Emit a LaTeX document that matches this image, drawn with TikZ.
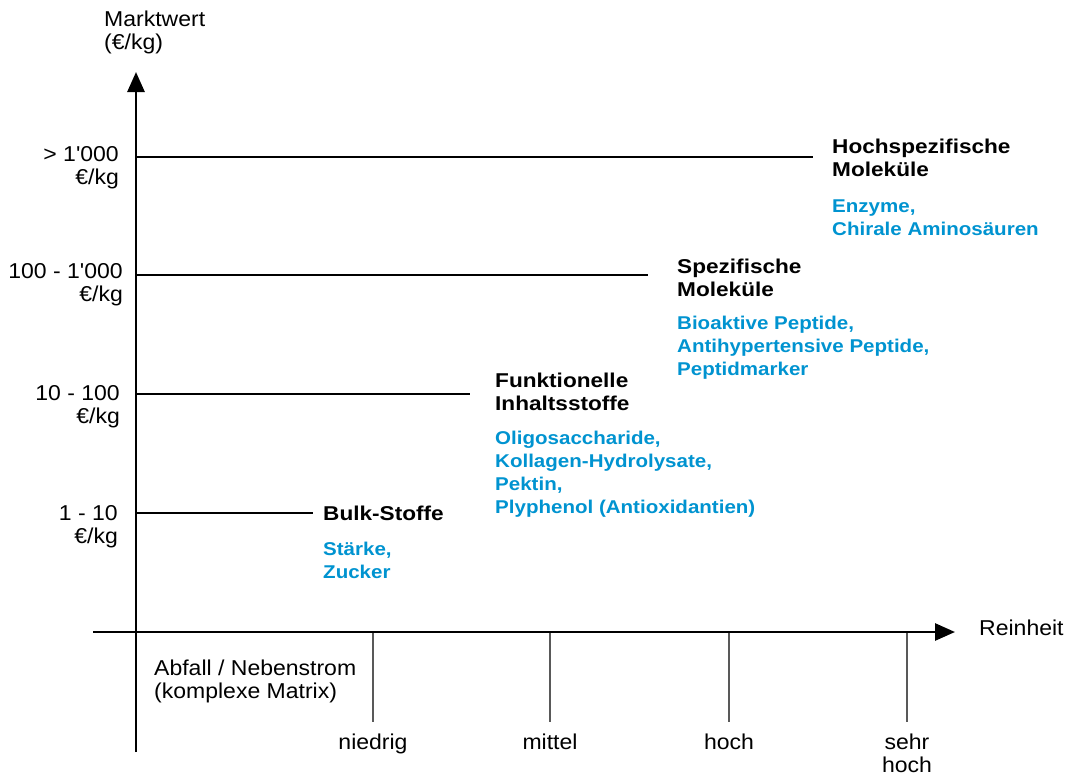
\documentclass[tikz,border=0pt]{standalone}
\usepackage{fontspec}
\setmainfont{Liberation Sans}[Ligatures=TeXOff]
\newfontfamily\regfont{Liberation Sans}[FakeStretch=1.07,Ligatures=TeXOff]
\newfontfamily\catfont{Liberation Sans}[FakeStretch=1.13,Ligatures=TeXOff]
\newfontfamily\itemfont{Liberation Sans}[FakeStretch=1.11,Ligatures=TeXOff]
\usetikzlibrary{arrows.meta}
\definecolor{itemblue}{RGB}{0,147,208}
\begin{document}
\begin{tikzpicture}[x=1pt,y=-1pt,
  lbl/.style={inner sep=0pt,align=left,font=\regfont\fontsize{21.5}{23}\selectfont},
  rlbl/.style={lbl,align=right},
  clbl/.style={lbl,align=center},
  cat/.style={inner sep=0pt,align=left,font=\catfont\fontsize{20}{23}\selectfont\bfseries},
  items/.style={inner sep=0pt,align=left,font=\itemfont\fontsize{18.5}{22.7}\selectfont\bfseries,text=itemblue},
  axis/.style={line width=2.7pt,-{Triangle[length=20pt,width=17pt]}},
  level/.style={line width=1.3pt},
  tick/.style={line width=1.2pt,black!65}]
\useasboundingbox (0,0) rectangle (1067,776);
% axes
\coordinate (yb) at (136,752);
\coordinate (yt) at (136,72);
\coordinate (xl) at (93,632);
\coordinate (xr) at (955,632);
\draw[axis] (yb) -- (yt);
\draw[axis] (xl) -- (xr);
% level lines
\coordinate (l1a) at (136,157); \coordinate (l1b) at (813,157);
\coordinate (l2a) at (136,275); \coordinate (l2b) at (648,275);
\coordinate (l3a) at (136,394); \coordinate (l3b) at (470,394);
\coordinate (l4a) at (136,513); \coordinate (l4b) at (313,513);
\draw[level] (l1a) -- (l1b);
\draw[level] (l2a) -- (l2b);
\draw[level] (l3a) -- (l3b);
\draw[level] (l4a) -- (l4b);
% ticks
\foreach \x/\n in {373/t1,550/t2,729/t3,907/t4}{
  \coordinate (\n a) at (\x,633); \coordinate (\n b) at (\x,722);
  \draw[tick] (\n a) -- (\n b);
}
% axis labels
\node[lbl,anchor=base west] (ylab) at (104,50) {Marktwert\\(€/kg)};
\node[lbl,anchor=base west] (xlab) at (979,635) {Reinheit};
\node[lbl,anchor=base west] (waste) at (154,698) {Abfall / Nebenstrom\\(komplexe Matrix)};
% y values
\node[rlbl,anchor=base east] (v1) at (119,184) {> 1'000\\€/kg};
\node[rlbl,anchor=base east] (v2) at (123,301) {100 - 1'000\\€/kg};
\node[rlbl,anchor=base east] (v3) at (120,423) {10 - 100\\€/kg};
\node[rlbl,anchor=base east] (v4) at (118,543) {1 - 10\\€/kg};
% x values
\node[clbl,anchor=base] (p1) at (373,749) {niedrig};
\node[clbl,anchor=base] (p2) at (550,749) {mittel};
\node[clbl,anchor=base] (p3) at (729,749) {hoch};
\node[clbl,anchor=base] (p4) at (907,772) {sehr\\hoch};
% categories
\node[cat,anchor=base west] (c1) at (832,176) {Hochspezifische\\Moleküle};
\node[items,anchor=base west] (i1) at (832,235) {Enzyme,\\Chirale Aminosäuren};
\node[cat,anchor=base west] (c2) at (677,296) {Spezifische\\Moleküle};
\node[items,anchor=base west] (i2) at (677,375) {Bioaktive Peptide,\\Antihypertensive Peptide,\\Peptidmarker};
\node[cat,anchor=base west] (c3) at (495,410) {Funktionelle\\Inhaltsstoffe};
\node[items,anchor=base west] (i3) at (495,513) {Oligosaccharide,\\Kollagen-Hydrolysate,\\Pektin,\\Plyphenol (Antioxidantien)};
\node[cat,anchor=base west] (c4) at (323,520) {Bulk-Stoffe};
\node[items,anchor=base west] (i4) at (323,578) {Stärke,\\Zucker};
\end{tikzpicture}
\end{document}
